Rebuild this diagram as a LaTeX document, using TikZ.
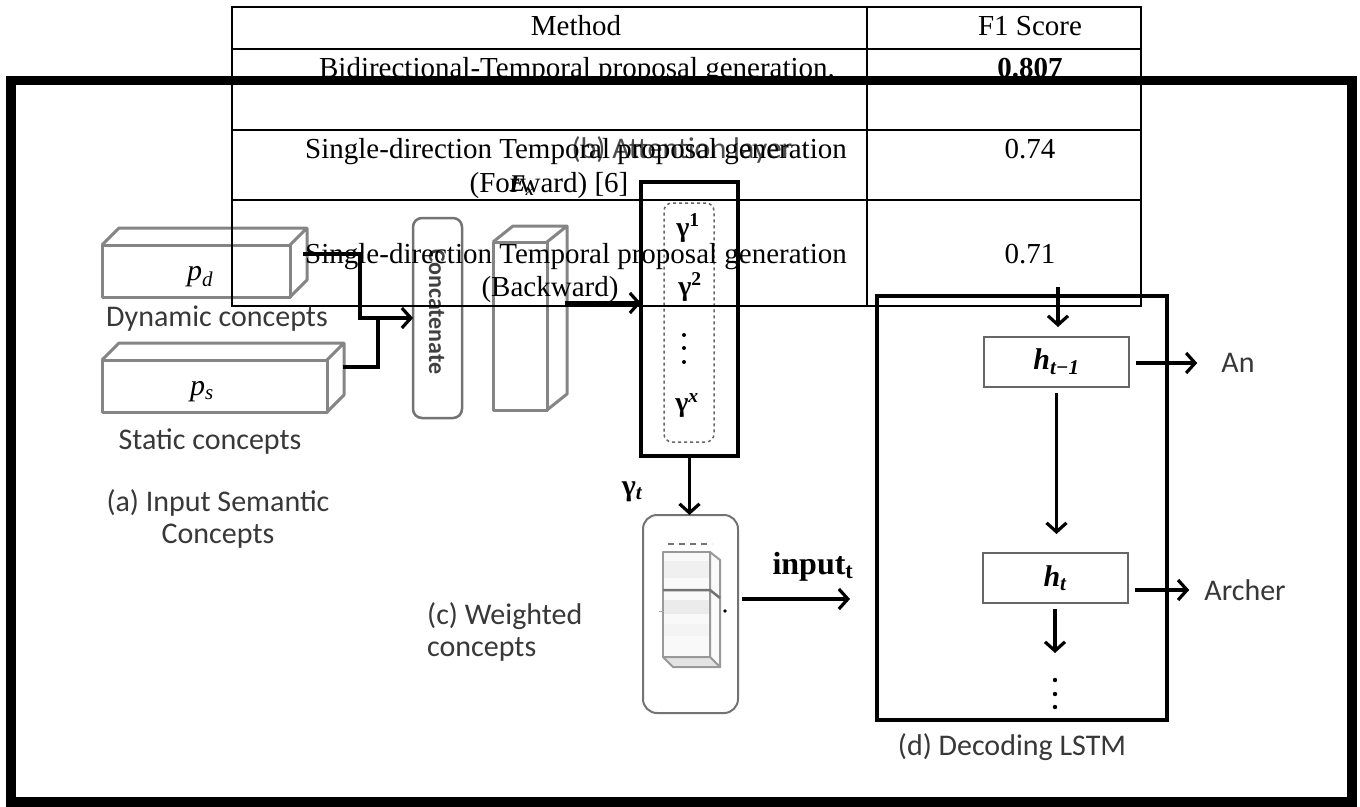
\documentclass[tikz,border=0pt]{standalone}
\usepackage{fontspec}
\setmainfont{Liberation Serif}
\newfontfamily\calfont{Carlito}
\usetikzlibrary{arrows.meta,calc}

\tikzset{
  box3d/.style={draw=black!48, line width=3pt, line join=round},
  front/.style={box3d, inner sep=0pt, outer sep=0pt},
  tline/.style={draw=black, line width=2pt},
  tcell/.style={font=\fontsize{29}{34}\selectfont, anchor=base, inner sep=0pt},
  capt/.style={font=\calfont\fontsize{30}{32}\selectfont, text=black!78, inner sep=0pt},
  symlbl/.style={font=\fontsize{28}{32}\selectfont, inner sep=0pt},
  conn/.style={line width=3.2pt},
  arr/.style={conn, -{Straight Barb[length=9pt,width=20pt]}},
  hcell/.style={draw=black!60, line width=2pt, minimum width=145pt, minimum height=50pt, inner sep=0pt},
  panel/.style={draw, line width=4pt, inner sep=0pt, outer sep=0pt},
  softpanel/.style={draw=black!55, inner sep=0pt, outer sep=0pt},
}

\begin{document}
\begin{tikzpicture}[x=1pt,y=-1pt]
\fill[white] (0,0) rectangle (1360,806);
\useasboundingbox (0,0) rectangle (1360,806);

% ---------- (a) input semantic concepts ----------
\node[front, minimum width=188pt, minimum height=52pt] (pd) at (196,271) {};
\draw[box3d] (pd.north west) -- ++(17,-17) -- ++(188,0) -- ++(0,52) -- (pd.south east)
             (pd.north east) -- ++(17,-17);
\node[symlbl, font=\fontsize{30}{34}\selectfont] (pdl) at (200,277) {\itshape p\textsubscript{d}};

\node[front, minimum width=225pt, minimum height=52pt] (ps) at (214.5,386) {};
\draw[box3d] (ps.north west) -- ++(17,-17) -- ++(225,0) -- ++(0,52) -- (ps.south east)
             (ps.north east) -- ++(17,-17);
\node[symlbl, font=\fontsize{30}{34}\selectfont] (psl) at (202,392) {\itshape p\textsubscript{s}};

\node[capt] (dyn) at (217,319) {Dynamic concepts};
\node[capt] (sta) at (210,442) {Static concepts};
\node[capt, align=center] (acap) at (218,519) {(a) Input Semantic\\Concepts};

% ---------- concatenation ----------
\node[softpanel, line width=2.5pt, rounded corners=9pt, minimum width=49pt, minimum height=200pt] (concat) at (437.5,318) {};
\node[font=\calfont\bfseries\fontsize{24}{28}\selectfont, text=black!75, rotate=-90, inner sep=0pt] (concatl) at (437,312) {Concatenate};

\coordinate (pdout) at (303,254);
\coordinate (psout) at (343,367);
\draw[arr] (pdout) -| (360,318) -- (concat.west);
\draw[conn] (psout) -| (378,318);

% ---------- concatenated features E_x ----------
\node[front, minimum width=54pt, minimum height=168pt] (ex) at (520,326) {};
\draw[box3d] (ex.north west) -- ++(20,-16) -- ++(54,0) -- ++(0,168) -- (ex.south east)
             (ex.north east) -- ++(20,-16);
\node[symlbl, font=\fontsize{24}{28}\selectfont] (exl) at (522,186) {\bfseries\itshape E\textsubscript{x}};
\coordinate (exout) at (565,303);

% ---------- (b) attention layer ----------
\node[panel, minimum width=97pt, minimum height=274pt] (att) at (689.5,319) {};
\node[draw=black!60, dashed, line width=1.5pt, rounded corners=8pt, minimum width=50pt, minimum height=239pt, inner sep=0pt] (gam) at (689,322.5) {};
\node[symlbl] (g1) at (688,228) {\bfseries γ\textsuperscript{1}};
\node[symlbl] (g2) at (690,287) {\bfseries γ\textsuperscript{2}};
\node[symlbl] (gx) at (687,405) {\bfseries γ\textsuperscript{\itshape x}};
\fill (684,335) circle (2pt) (684,348) circle (2pt) (684,362) circle (2pt);
\node[capt, text=black!70] (bcap) at (682,150) {(b) Attention layer};
\draw[arr] (exout) -- (exout -| att.west);

% ---------- (c) weighted concepts ----------
\node[softpanel, line width=2pt, rounded corners=14pt, minimum width=95pt, minimum height=198pt] (wt) at (690.5,614) {};
\draw[arr] (att.south) -- (att.south |- wt.north);
\node[symlbl, font=\fontsize{30}{34}\selectfont] (gt) at (632,492) {\bfseries γ\textsubscript{\itshape t}};

\begin{scope}[line join=round]
\fill[gray!5] (663,552) rectangle (710,657);
\fill[gray!12] (664,561) rectangle (709,578);
\fill[gray!16] (664,600) rectangle (709,614);
\fill[gray!9] (664,624) rectangle (709,636);
\filldraw[fill=gray!4, draw=black!40, line width=2pt] (710,552) -- (720,560) -- (720,667) -- (710,657) -- cycle;
\filldraw[fill=gray!22, draw=black!40, line width=2pt] (663,657) -- (710,657) -- (720,667) -- (673,667) -- cycle;
\draw[black!40, line width=2pt] (663,552) rectangle (710,657);
\draw[black!55, line width=2.5pt] (663,590) -- (710,590) -- (720,598);
\draw[black!55, line width=1.5pt, dash pattern=on 6pt off 5pt] (668,544) -- (712,544);
\fill (725,611) circle (1.8pt);
\draw[black!35, line width=1pt] (659,611) -- (664,611);
\end{scope}

\node[capt, align=left, anchor=west] (ccap) at (427,632) {(c) Weighted\\concepts};
\node[symlbl, font=\fontsize{32}{36}\selectfont] (inl) at (813,567) {\bfseries input\textsubscript{t}};
\coordinate (inend) at (850,599);
\draw[arr, shorten <=4pt] (wt.east |- inend) -- (inend);

% ---------- (d) decoding LSTM ----------
\node[panel, minimum width=290pt, minimum height=424pt] (dec) at (1022,508) {};
\node[hcell] (htm) at (1056.5,362) {\fontsize{30}{34}\selectfont\bfseries\itshape h\textsubscript{t−1}};
\node[hcell] (ht) at (1055,578) {\fontsize{30}{34}\selectfont\bfseries\itshape h\textsubscript{t}};
\node[capt] (an) at (1238,363) {An};
\node[capt] (archer) at (1245,590) {Archer};
\node[capt] (dcap) at (1012,747) {(d) Decoding LSTM};

\coordinate (topin) at (1058,287);
\draw[arr, shorten >=9pt] (topin) -- (topin |- htm.north);
\draw[arr, shorten <=5pt, shorten >=18pt] (htm.south) -- (htm.south |- ht.north);
\draw[arr, shorten <=6pt, shorten >=24pt] (htm.east |- an.west) -- (an.west);
\draw[arr, shorten <=6pt, shorten >=15pt] (ht.east |- archer.west) -- (archer.west);
\draw[arr, shorten <=5pt] (ht.south) -- ++(0,49);
\fill (1055,680) circle (2.2pt) (1055,694) circle (2.2pt) (1055,707) circle (2.2pt);

% ---------- results table ----------
\draw[tline] (232,7) rectangle (1141,306);
\draw[tline] (232,49) -- (1141,49);
\draw[tline] (232,84) -- (1141,84);
\draw[tline] (232,130) -- (1141,130);
\draw[tline] (232,200) -- (1141,200);
\draw[tline] (867,7) -- (867,306);

\node[tcell] (hmethod) at (576,35) {Method};
\node[tcell] (hscore) at (1030,35) {F1 Score};
\node[tcell] (m1) at (577,77) {Bidirectional-Temporal proposal generation.};
\node[tcell] (s1) at (1030,77) {\textbf{0.807}};
\node[tcell] (m2a) at (576,158) {Single-direction Temporal proposal generation};
\node[tcell] (m2b) at (549,192) {(Forward) [6]};
\node[tcell] (s2) at (1030,158) {0.74};
\node[tcell] (m3a) at (576,263) {Single-direction Temporal proposal generation};
\node[tcell] (m3b) at (550,296) {(Backward)};
\node[tcell] (s3) at (1030,263) {0.71};

% ---------- outer frame ----------
\draw[line width=9.5pt] (11,80.5) rectangle (1352,802);
\end{tikzpicture}
\end{document}
